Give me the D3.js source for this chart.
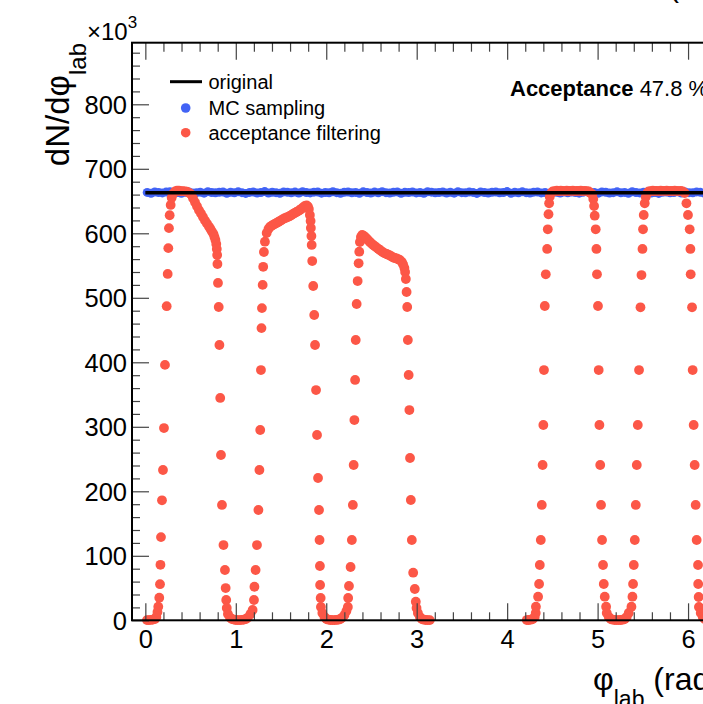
<!DOCTYPE html>
<html>
<head>
<meta charset="utf-8">
<script src="https://cdn.jsdelivr.net/npm/d3@7"></script>
<style>
  html, body { margin: 0; padding: 0; background: #fff; overflow: hidden; }
  svg { display: block; font-family: "Liberation Sans", Arial, Helvetica, sans-serif; }
</style>
</head>
<body>
<svg id="chart" width="703" height="704"></svg>
<script>
// ---------------- data ----------------
const xTickValues = [0, 1, 2, 3, 4, 5, 6];
const xTickLabels = ["0", "1", "2", "3", "4", "5", "6"];
const yTickValues = [0, 100, 200, 300, 400, 500, 600, 700, 800];
const yTickLabels = ["0", "100", "200", "300", "400", "500", "600", "700", "800"];

const legendLabels = ["original", "MC sampling", "acceptance filtering"];
const acceptanceLabel = "Acceptance";
const acceptanceValue = "47.8 %";

// original distribution (flat), in units of 10^3
const originalPhi = [0, 6.2832];
const originalCounts = [663, 663];

// MC sampling: 150 bins over [0, 2π], units of 10^3
const mcBins = 150;
const mcCounts = [
  663.4, 662.1, 664.0, 663.2, 662.6, 663.9, 664.5, 662.8, 663.1, 661.9,
  663.7, 664.2, 662.4, 663.0, 663.8, 662.2, 664.6, 663.3, 662.7, 663.5,
  664.1, 662.0, 663.6, 662.9, 664.3, 663.0, 661.8, 663.4, 664.0, 662.5,
  663.2, 664.7, 662.3, 663.6, 663.0, 662.1, 664.2, 663.5, 662.8, 663.9,
  662.4, 664.4, 663.1, 662.6, 663.8, 664.0, 662.2, 663.3, 662.9, 664.5,
  663.0, 662.0, 663.7, 664.1, 662.7, 663.4, 661.9, 664.3, 663.2, 662.5,
  663.9, 662.8, 664.6, 663.0, 662.3, 663.6, 664.2, 662.1, 663.5, 663.1,
  664.0, 662.6, 663.3, 662.0, 664.4, 663.8, 662.9, 663.2, 664.1, 662.4,
  663.7, 662.2, 664.5, 663.0, 662.7, 663.9, 663.4, 661.8, 664.2, 663.1,
  662.5, 663.6, 664.0, 662.8, 663.3, 664.7, 662.1, 663.5, 662.9, 664.3,
  663.0, 662.4, 663.8, 664.1, 662.6, 663.2, 661.9, 664.4, 663.6, 662.3,
  663.9, 662.7, 664.0, 663.1, 662.2, 663.5, 664.6, 662.8, 663.3, 662.0,
  664.2, 663.7, 662.5, 663.0, 664.3, 662.9, 663.4, 662.1, 664.5, 663.2,
  662.6, 663.8, 664.1, 662.4, 663.1, 661.8, 663.6, 664.0, 662.7, 663.3,
  664.4, 662.3, 663.9, 663.0, 662.8, 664.2, 663.5, 662.2, 663.7, 663.1
];

// acceptance filtering: phi (rad) and counts (10^3)
const accPhi = [
  0.018, 0.040, 0.062, 0.084, 0.106, 0.122, 0.134, 0.143, 0.154, 0.162, 0.167, 0.173, 0.184, 0.195, 0.206, 0.217,
  0.236, 0.247, 0.254, 0.261, 0.269, 0.280, 0.291, 0.306, 0.328,
  0.350, 0.372, 0.394, 0.416, 0.438, 0.460, 0.482,
  0.504, 0.527, 0.549, 0.571, 0.593, 0.615, 0.637, 0.659, 0.681, 0.703, 0.720, 0.736, 0.753, 0.764, 0.775, 0.784,
  0.790, 0.794, 0.797, 0.803, 0.811, 0.819, 0.828, 0.836, 0.847, 0.864, 0.880, 0.888, 0.894, 0.900, 0.913, 0.935,
  0.957, 0.979, 1.001, 1.023,
  1.046, 1.068, 1.090, 1.112, 1.134, 1.162, 1.186, 1.201, 1.206, 1.219, 1.234, 1.250, 1.261, 1.270, 1.278, 1.284,
  1.289, 1.297, 1.303, 1.311, 1.322, 1.341, 1.361, 1.377, 1.394, 1.410, 1.430, 1.451, 1.470, 1.488, 1.505, 1.521,
  1.541, 1.562, 1.580, 1.598, 1.615, 1.632, 1.652, 1.672, 1.690, 1.709, 1.725, 1.742, 1.764, 1.783, 1.797, 1.808,
  1.819, 1.827, 1.830, 1.836, 1.839, 1.845, 1.856, 1.867, 1.876, 1.887, 1.898, 1.909, 1.920, 1.926, 1.930, 1.932,
  1.938, 1.941, 1.957, 1.980, 2.002, 2.024, 2.046, 2.068,
  2.090, 2.112, 2.134, 2.156, 2.178, 2.201, 2.223, 2.239, 2.242, 2.251, 2.269, 2.283, 2.294, 2.303, 2.311, 2.319,
  2.326, 2.336, 2.347, 2.358, 2.365, 2.372, 2.383, 2.397, 2.416, 2.431, 2.446, 2.464, 2.482, 2.500, 2.519, 2.537,
  2.556, 2.575, 2.593, 2.611, 2.630, 2.648, 2.667, 2.685, 2.703, 2.722, 2.740, 2.758, 2.777, 2.795, 2.814, 2.836,
  2.850, 2.864, 2.872, 2.880, 2.888, 2.895, 2.902, 2.911, 2.919, 2.926, 2.935, 2.946, 2.961, 2.979, 2.990, 2.998,
  3.013, 3.035, 3.057, 3.079, 3.101, 3.123, 3.145,
  4.217, 4.239, 4.261, 4.283, 4.305, 4.316, 4.318, 4.342, 4.353, 4.361, 4.372, 4.383, 4.392, 4.400, 4.407, 4.416,
  4.427, 4.442, 4.449, 4.457, 4.464, 4.471, 4.488, 4.504,
  4.527, 4.549, 4.571, 4.593, 4.615, 4.637, 4.659, 4.681, 4.704, 4.726, 4.748, 4.770, 4.792, 4.814, 4.836, 4.858,
  4.880, 4.903,
  4.919, 4.941, 4.952, 4.961, 4.968, 4.979, 4.987, 4.993, 5.004, 5.012, 5.020, 5.029, 5.038, 5.049, 5.060, 5.068,
  5.079, 5.094, 5.101, 5.123, 5.145, 5.167, 5.190, 5.212,
  5.234, 5.256, 5.278, 5.300, 5.322, 5.344, 5.374, 5.385, 5.392, 5.400, 5.411, 5.422, 5.433, 5.444, 5.458, 5.474,
  5.485, 5.496, 5.502, 5.510, 5.521, 5.532, 5.549, 5.565,
  5.588, 5.610, 5.632, 5.654, 5.676, 5.698, 5.720, 5.742, 5.764, 5.786, 5.808, 5.831, 5.853, 5.875, 5.897, 5.919,
  5.941,
  5.963, 5.982, 5.999, 6.018, 6.026, 6.029, 6.044, 6.051, 6.062, 6.073, 6.084, 6.095, 6.110, 6.112, 6.117, 6.120,
  6.140, 6.162, 6.184, 6.206, 6.228, 6.250, 6.272
];
const accCounts = [
  0.3, 0.4, 0.6, 1.0, 2.0, 5.0, 12.9, 21, 35, 56, 86, 129, 186, 233, 298, 396,
  487, 537, 577, 608, 628, 644, 655, 661, 665,
  666, 666, 665.5, 665.5, 665, 664.5, 663,
  660.6, 654.4, 648.2, 642, 635.8, 630.7, 625.3, 619.8, 615.2, 610.5, 606.7, 602.8, 598.9, 594.3, 589.6, 583.4,
  575.7, 566.4, 552.4, 523, 485.7, 426.8, 344.7, 256.3, 178.8, 116.7, 78, 50, 31.5, 19, 9.8, 4.3,
  2, 1.2, 0.5, 0.4,
  0.4, 0.6, 1.2, 2, 4.3, 9.8, 16, 31.5, 52, 78, 116.7, 171, 233, 295, 388, 453,
  484, 520, 548, 571, 587, 600.5, 606.7, 609.8, 611.5, 612.9, 614.5, 616, 617.5, 619, 620.5, 622,
  623.3, 624.5, 625.6, 626.8, 628.3, 629.9, 631.5, 633, 634.5, 636.1, 638, 640, 642.3, 643.1, 641.6, 637.7,
  628.4, 619, 608.2, 595.8, 581.9, 557, 518.3, 473.3, 426.8, 357, 287.3, 220.6, 171, 124.5, 84.2, 54.7,
  34.6, 20.6, 11.3, 5.1, 2, 0.9, 0.5, 0.4,
  0.4, 0.6, 0.9, 2, 4.3, 8.2, 14.4, 20.6, 34.6, 53.2, 82.6, 124.5, 178.8, 240.8, 310.5, 372.6,
  434.6, 490.4, 526, 553.5, 571.5, 586.5, 594.3, 597.4, 595.8, 594, 592, 589.2, 586.5, 584.2, 581.9, 580,
  578, 576, 574.1, 572.1, 570.2, 569, 567.9, 566.8, 565.6, 564, 562.5, 561.7, 560.9, 559.8, 558.6, 555.5,
  551.6, 546.2, 540, 529.1, 509, 485.7, 434.6, 380.3, 326, 251.6, 186.5, 124.5, 73.8, 48.5, 28.8, 19.1,
  11.3, 5.1, 2, 0.9, 0.5, 0.4, 0.3,
  0.4, 0.5, 0.9, 2, 5.1, 11.3, 21, 36.6, 56.3, 85.7, 124.5, 178.8, 240.8, 302.8, 388, 487.3,
  536.4, 575.7, 606.2, 629.5, 646.5, 656.7, 662.5, 664.8,
  665.5, 666, 665.5, 666, 665.8, 665.5, 666, 665.6, 665.8, 666, 665.5, 665.9, 665.7, 666, 665.5, 665.8,
  665.5, 665,
  662.5, 660.6, 653, 642.3, 627.3, 606.2, 575.7, 536.4, 487.3, 388, 302.8, 240.8, 178.8, 124.5, 85.7, 56.3,
  36.6, 21, 11.3, 5.1, 2, 0.9, 0.5, 0.4,
  0.4, 0.5, 0.9, 2, 5.1, 11.3, 21, 36.6, 56.3, 85.7, 124.5, 178.8, 240.8, 302.8, 388, 485.3,
  535.3, 575.7, 606.2, 628.4, 646.5, 656.3, 662.5, 664.8,
  665.5, 666, 665.6, 665.9, 665.5, 666, 665.7, 665.8, 666, 665.5, 665.9, 665.6, 666, 665.7, 665.5, 665.8,
  665,
  662.5, 646.5, 628.4, 606.2, 575.7, 536.4, 485.3, 388, 302.8, 240.8, 178.8, 124.5, 85.7, 56.3, 36.1, 20.6,
  11.3, 5.1, 2, 0.9, 0.5, 0.4, 0.3
];

// ---------------- drawing ----------------
const svg = d3.select("#chart");
const FONT = '"Liberation Sans", Arial, Helvetica, sans-serif';
const BLUE = "#4263f5";
const RED = "#fc5747";

const frame = { left: 132, top: 42.7, right: 727, bottom: 620.3 };
const x = d3.scaleLinear().domain([-0.1475, 6.4305]).range([frame.left, frame.right]);
const y = d3.scaleLinear().domain([0, 895.5]).range([frame.bottom, frame.top]);

svg.append("rect").attr("width", 703).attr("height", 704).attr("fill", "#fff");

// MC sampling points
const mcWidth = 2 * Math.PI / mcBins;
svg.append("g").selectAll("circle").data(mcCounts).join("circle")
  .attr("cx", (d, i) => x((i + 0.5) * mcWidth))
  .attr("cy", d => y(d))
  .attr("r", 4.5)
  .attr("fill", BLUE);

// acceptance filtering points
svg.append("g").selectAll("circle").data(accPhi).join("circle")
  .attr("cx", d => x(d))
  .attr("cy", (d, i) => y(accCounts[i]))
  .attr("r", 4.9)
  .attr("fill", RED);

// original line
svg.append("path")
  .datum(originalPhi.map((p, i) => [p, originalCounts[i]]))
  .attr("d", d3.line().x(d => x(d[0])).y(d => y(d[1])))
  .attr("stroke", "#000").attr("stroke-width", 3.5).attr("fill", "none");

// axes
function styleAxis(g) {
  g.select(".domain").remove();
  g.selectAll(".tick line").attr("stroke", "#444").attr("stroke-width", 1.2);
}
const xMinor = d3.range(1, 33).map(i => i * 0.2).filter(v => Math.abs(v - Math.round(v)) > 1e-6 && v < 6.43);
const yMinor = d3.range(0, 45).map(i => i * 20).filter(v => v % 100 !== 0 && v < 895);

// bottom
svg.append("g").attr("transform", `translate(0,${frame.bottom})`)
  .call(d3.axisBottom(x).tickValues(xMinor).tickSize(-8).tickFormat(""))
  .call(styleAxis);
const gxb = svg.append("g").attr("transform", `translate(0,${frame.bottom})`)
  .call(d3.axisBottom(x).tickValues(xTickValues).tickSize(-17).tickFormat((d, i) => xTickLabels[i]))
  .call(styleAxis);
gxb.selectAll(".tick text").attr("y", 28).attr("dy", 0)
  .attr("font-size", 25.5).attr("font-family", FONT).attr("fill", "#000");

// top
svg.append("g").attr("transform", `translate(0,${frame.top})`)
  .call(d3.axisTop(x).tickValues(xMinor).tickSize(-9).tickFormat(""))
  .call(styleAxis);
svg.append("g").attr("transform", `translate(0,${frame.top})`)
  .call(d3.axisTop(x).tickValues(xTickValues).tickSize(-17).tickFormat(""))
  .call(styleAxis);

// left
svg.append("g").attr("transform", `translate(${frame.left},0)`)
  .call(d3.axisLeft(y).tickValues(yMinor).tickSize(-8).tickFormat(""))
  .call(styleAxis);
const gyl = svg.append("g").attr("transform", `translate(${frame.left},0)`)
  .call(d3.axisLeft(y).tickValues(yTickValues).tickSize(-17).tickFormat((d, i) => yTickLabels[i]))
  .call(styleAxis);
gyl.selectAll(".tick text").attr("x", -5).attr("dy", "0.36em")
  .attr("font-size", 25.5).attr("font-family", FONT).attr("fill", "#000");

// frame
svg.append("rect")
  .attr("x", frame.left).attr("y", frame.top)
  .attr("width", frame.right - frame.left).attr("height", frame.bottom - frame.top)
  .attr("fill", "none").attr("stroke", "#000").attr("stroke-width", 2);

// y title
const yt = svg.append("text")
  .attr("transform", "translate(69,43) rotate(-90)")
  .attr("text-anchor", "end")
  .attr("font-family", FONT).attr("fill", "#000");
yt.append("tspan").attr("font-size", 33).text("dN/dφ");
yt.append("tspan").attr("font-size", 24).attr("dy", 17).text("lab");

// ×10^3
const mult = svg.append("text").attr("x", 87).attr("y", 39.5)
  .attr("font-family", FONT).attr("fill", "#000");
mult.append("tspan").attr("font-size", 24).text("×10");
mult.append("tspan").attr("font-size", 17).attr("dy", -12).text("3");

// x title
const xt = svg.append("text").attr("x", 593).attr("y", 690)
  .attr("font-family", FONT).attr("fill", "#000");
xt.append("tspan").attr("font-size", 32).text("φ");
xt.append("tspan").attr("font-size", 23).attr("dy", 17).text("lab");
xt.append("tspan").attr("font-size", 32).attr("dy", -17).text(" (rad)");

// cropped title fragment at top right
svg.append("text").attr("x", 669).attr("y", -3)
  .attr("font-size", 30).attr("font-family", FONT).attr("fill", "#000").text("(");

// legend
const lg = svg.append("g");
const legendY = [81.7, 108, 132.7];
lg.append("line").attr("x1", 170).attr("x2", 202).attr("y1", legendY[0]).attr("y2", legendY[0])
  .attr("stroke", "#000").attr("stroke-width", 3);
lg.append("circle").attr("cx", 185.7).attr("cy", legendY[1]).attr("r", 4.8).attr("fill", BLUE);
lg.append("circle").attr("cx", 185.7).attr("cy", legendY[2]).attr("r", 4.8).attr("fill", RED);
lg.selectAll("text.leg").data(legendLabels).join("text")
  .attr("class", "leg")
  .attr("x", 208.5)
  .attr("y", (d, i) => legendY[i] + 6.8)
  .attr("font-size", 20).attr("font-family", FONT).attr("fill", "#000")
  .text(d => d);

// acceptance annotation
const acc = svg.append("text").attr("x", 510).attr("y", 96)
  .attr("font-size", 22).attr("font-family", FONT).attr("fill", "#000");
acc.append("tspan").attr("font-weight", "bold").text(acceptanceLabel);
acc.append("tspan").text(" " + acceptanceValue);
</script>
</body>
</html>
